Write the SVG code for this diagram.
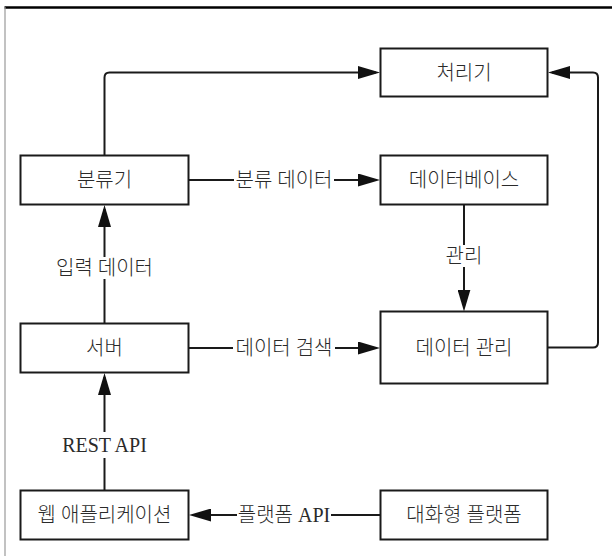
<svg xmlns="http://www.w3.org/2000/svg" width="612" height="556" viewBox="0 0 612 556">
<style>
.box{fill:#fff;stroke:#1a1a1a;stroke-width:2}
.t{font-family:"Liberation Serif","Noto Sans CJK KR",serif;font-size:20px;font-weight:300;fill:#2a2a2a;text-anchor:middle;dominant-baseline:central}
.ln{fill:none;stroke:#1a1a1a;stroke-width:2}
.bg{fill:#fff}
</style>
<defs>
<marker id="ah" viewBox="0 0 22 13" refX="18" refY="6.5" markerWidth="22" markerHeight="13" markerUnits="userSpaceOnUse" orient="auto">
<path d="M0,0 L22,6.5 L0,13 z" fill="#111"/>
</marker>
</defs>
<rect width="612" height="556" fill="#fff"/>
<line x1="4.5" y1="7.5" x2="612" y2="7.5" stroke="#000" stroke-width="2.5"/>
<line x1="5" y1="7" x2="5" y2="556" stroke="#999" stroke-width="1.2"/>
<g id="connectors">
<path class="ln" d="M104.5,155.5 V77.5 Q104.5,72.5 109.5,72.5 H376" marker-end="url(#ah)"/>
<path class="ln" d="M547.5,347.5 H593 Q598,347.5 598,342.5 V77.5 Q598,72.5 593,72.5 H552" marker-end="url(#ah)"/>
<path class="ln" d="M188.5,180 H376" marker-end="url(#ah)"/>
<rect class="bg" x="234" y="168" width="100" height="24"/>
<text class="t" x="284" y="180">분류 데이터</text>
<path class="ln" d="M464,204.5 V307.5" marker-end="url(#ah)"/>
<rect class="bg" x="442" y="245" width="44" height="22"/>
<text class="t" x="464" y="256">관리</text>
<path class="ln" d="M104.5,323.5 V209" marker-end="url(#ah)"/>
<rect class="bg" x="50" y="257" width="109" height="22"/>
<text class="t" x="104.5" y="268">입력 데이터</text>
<path class="ln" d="M188.5,348 H376" marker-end="url(#ah)"/>
<rect class="bg" x="233" y="336" width="102" height="24"/>
<text class="t" x="284" y="348">데이터 검색</text>
<path class="ln" d="M104.5,490.5 V377" marker-end="url(#ah)"/>
<rect class="bg" x="56" y="432" width="97" height="26"/>
<text class="t" x="104.5" y="445">REST API</text>
<path class="ln" d="M380.5,515 H193" marker-end="url(#ah)"/>
<rect class="bg" x="237" y="503" width="94" height="24"/>
<text class="t" x="284" y="515">플랫폼 API</text>
</g>
<g id="processor"><rect class="box" x="380.5" y="48.5" width="167" height="48"/><text class="t" x="464" y="72.5">처리기</text></g>
<g id="classifier"><rect class="box" x="20.5" y="155.5" width="168" height="49"/><text class="t" x="104.5" y="180">분류기</text></g>
<g id="database"><rect class="box" x="380.5" y="155.5" width="167" height="49"/><text class="t" x="464" y="180">데이터베이스</text></g>
<g id="server"><rect class="box" x="20.5" y="323.5" width="168" height="49"/><text class="t" x="104.5" y="348">서버</text></g>
<g id="data-management"><rect class="box" x="380.5" y="311.5" width="167" height="72"/><text class="t" x="464" y="347.5">데이터 관리</text></g>
<g id="web-app"><rect class="box" x="20.5" y="490.5" width="168" height="49"/><text class="t" x="104.5" y="515">웹 애플리케이션</text></g>
<g id="conv-platform"><rect class="box" x="380.5" y="490.5" width="167" height="49"/><text class="t" x="464" y="515">대화형 플랫폼</text></g>
</svg>
